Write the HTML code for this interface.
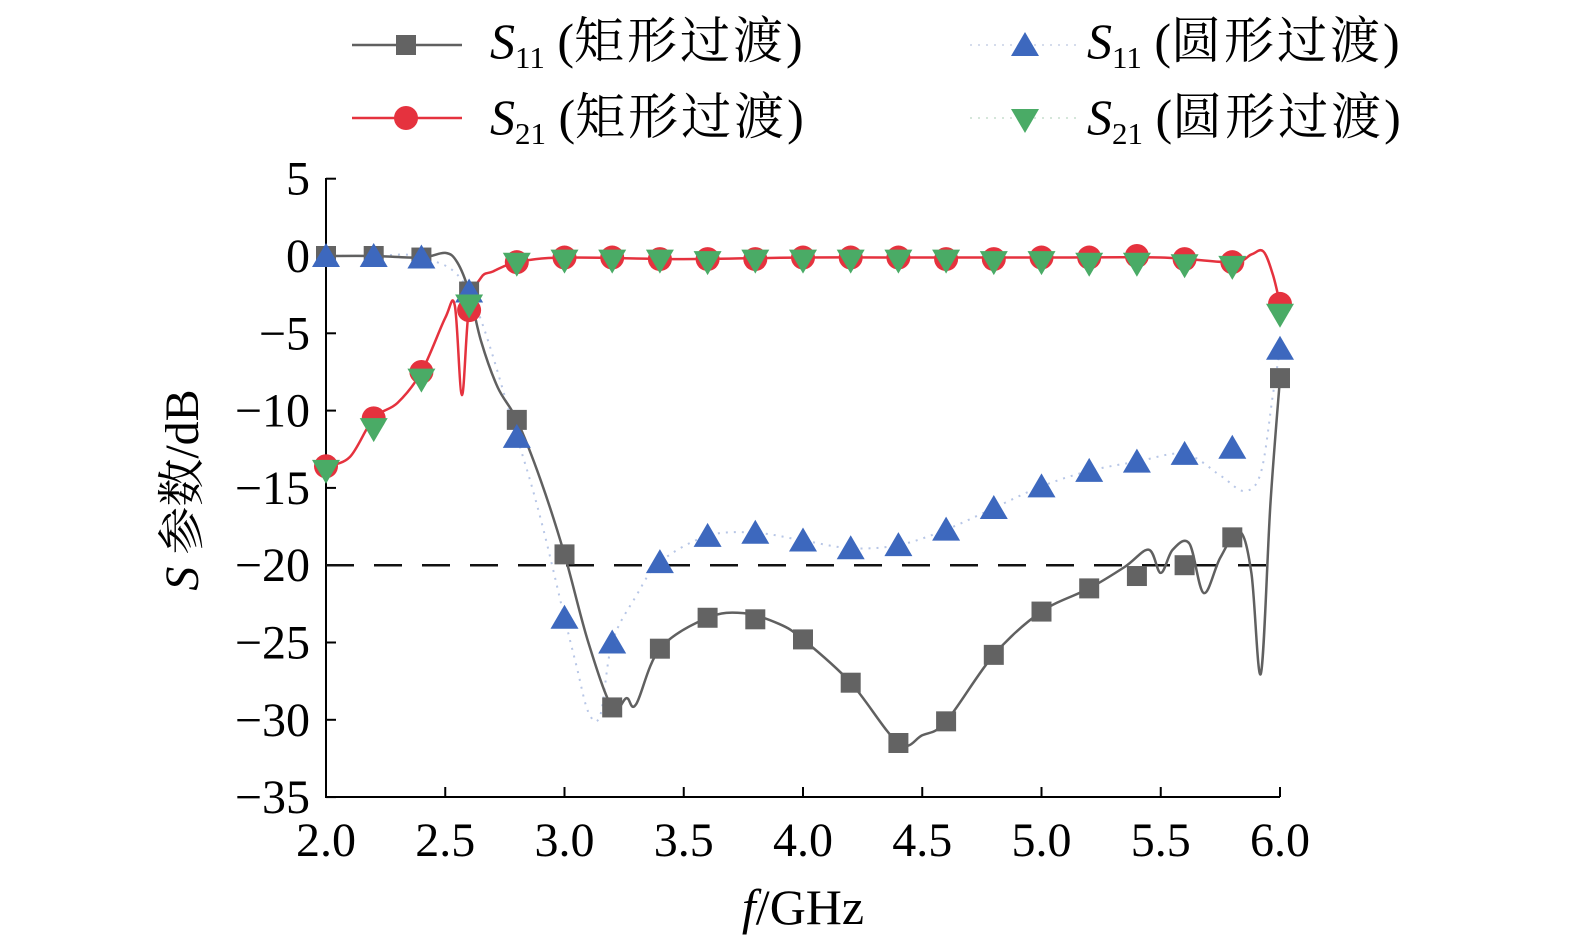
<!DOCTYPE html>
<html><head><meta charset="utf-8">
<style>
body{margin:0;background:#fff;}
svg{display:block;}
svg text{font-family:"Liberation Serif","Noto Serif CJK SC",serif;}
</style></head>
<body>
<svg id="chart" width="1575" height="949" viewBox="0 0 1575 949">
<g id="axes"></g>
<g id="series"></g>
<g id="legend"></g>
</svg>
<script>
const markerFreqs=[2.0,2.2,2.4,2.6,2.8,3.0,3.2,3.4,3.6,3.8,4.0,4.2,4.4,4.6,4.8,5.0,5.2,5.4,5.6,5.8,6.0];
const s11Rect=[0,0,-0.1,-2.3,-10.6,-19.3,-29.2,-25.4,-23.4,-23.5,-24.8,-27.6,-31.5,-30.1,-25.8,-23.0,-21.5,-20.7,-20.0,-18.2,-7.9];
const s21Rect=[-13.6,-10.5,-7.5,-3.5,-0.4,-0.1,-0.1,-0.2,-0.2,-0.2,-0.1,-0.1,-0.1,-0.2,-0.2,-0.1,-0.1,0.0,-0.2,-0.4,-3.1];
const s11Circ=[0,0,-0.1,-2.3,-11.7,-23.4,-25.0,-19.8,-18.1,-17.9,-18.4,-18.9,-18.7,-17.7,-16.3,-14.9,-13.9,-13.3,-12.8,-12.4,-6.0];
const s21Circ=[-13.9,-11.2,-8.0,-3.2,-0.5,-0.3,-0.3,-0.3,-0.4,-0.3,-0.3,-0.3,-0.3,-0.3,-0.4,-0.4,-0.5,-0.5,-0.6,-0.7,-3.8];
const s11RectLineF=[2.0,2.2,2.4,2.5,2.55,2.6,2.65,2.72,2.8,2.9,3.0,3.1,3.2,3.26,3.3,3.4,3.6,3.75,3.9,4.0,4.2,4.4,4.5,4.6,4.8,5.0,5.2,5.35,5.45,5.5,5.55,5.62,5.68,5.75,5.83,5.88,5.92,5.96,6.0];
const s11RectLineV=[0,0,-0.1,0.2,-0.4,-2.3,-5.5,-8.5,-10.6,-14.5,-19.3,-25,-29.2,-28.6,-29.0,-25.4,-23.4,-23.1,-23.8,-24.8,-27.6,-31.5,-31.0,-30.1,-25.8,-23.0,-21.5,-20.1,-19.0,-20.5,-19.0,-18.6,-21.8,-19.5,-17.8,-20.5,-27.0,-16,-7.9];
const s21RectLineF=[2.0,2.1,2.2,2.3,2.4,2.5,2.54,2.57,2.6,2.65,2.7,2.8,3.0,3.5,4.0,4.5,5.0,5.5,5.8,5.88,5.93,5.97,6.0];
const s21RectLineV=[-13.6,-13.0,-10.5,-9.5,-7.5,-4,-3.2,-9.0,-3.3,-1.4,-1.0,-0.4,-0.1,-0.2,-0.1,-0.1,-0.1,-0.1,-0.4,0.1,0.3,-1.2,-3.1];
const s11CircLineF=[2.0,2.2,2.4,2.6,2.8,2.9,3.0,3.05,3.1,3.15,3.2,3.3,3.4,3.6,3.8,4.0,4.2,4.4,4.6,4.8,5.0,5.2,5.4,5.6,5.75,5.85,5.92,5.97,6.0];
const s11CircLineV=[0,0,-0.1,-2.3,-11.7,-17,-23.4,-26.5,-29.5,-29.7,-25.0,-22,-19.8,-18.1,-17.9,-18.4,-18.9,-18.7,-17.7,-16.3,-14.9,-13.9,-13.3,-12.8,-14.2,-15.2,-14,-9,-6.0];
const xTicks=[2.0,2.5,3.0,3.5,4.0,4.5,5.0,5.5,6.0];
const xTickLabels=["2.0","2.5","3.0","3.5","4.0","4.5","5.0","5.5","6.0"];
const yTicks=[5,0,-5,-10,-15,-20,-25,-30,-35];
const yTickLabels=["5","0","\u22125","\u221210","\u221215","\u221220","\u221225","\u221230","\u221235"];
const refLine=-20;

const NS="http://www.w3.org/2000/svg";
const X0=326,X1=1280,Y0=256,PERDB=15.46;
function xs(f){return X0+(f-2)*(X1-X0)/4;}
function ys(v){return Y0-v*PERDB;}
function mk(tag,attrs,parent){const e=document.createElementNS(NS,tag);for(const k in attrs)e.setAttribute(k,attrs[k]);parent.appendChild(e);return e;}
function smooth(F,V){const p=F.map((f,i)=>[xs(f),ys(V[i])]);let d=`M${p[0][0]},${p[0][1]}`;
 for(let i=0;i<p.length-1;i++){const a=p[i-1]||p[i],b=p[i],c=p[i+1],e=p[i+2]||c;
 d+=` C${b[0]+(c[0]-a[0])/6},${b[1]+(c[1]-a[1])/6} ${c[0]-(e[0]-b[0])/6},${c[1]-(e[1]-b[1])/6} ${c[0]},${c[1]}`;}return d;}
const axes=document.getElementById('axes'),series=document.getElementById('series'),legend=document.getElementById('legend');

let e=mk('line',{x1:X0,y1:178,x2:X0,y2:798,stroke:'#000','stroke-width':2},axes);

e=mk('line',{x1:X0-1,y1:797,x2:X1,y2:797,stroke:'#000','stroke-width':2},axes);

yTicks.forEach((v,i)=>{mk('line',{x1:X0,y1:ys(v),x2:X0+10,y2:ys(v),stroke:'#000','stroke-width':2},axes);
 const t=mk('text',{x:310,y:ys(v)+16,'text-anchor':'end','font-size':48},axes);t.textContent=yTickLabels[i];
 });
xTicks.forEach((f,i)=>{mk('line',{x1:xs(f),y1:797,x2:xs(f),y2:787,stroke:'#000','stroke-width':2},axes);
 const t=mk('text',{x:xs(f),y:856,'text-anchor':'middle','font-size':48},axes);t.textContent=xTickLabels[i];
 });
e=mk('text',{x:803,y:924,'text-anchor':'middle','font-size':50},axes);
e.innerHTML='<tspan font-style="italic">f</tspan>/GHz';

e=mk('text',{x:0,y:0,'text-anchor':'middle','font-size':48,transform:'translate(198,490) rotate(-90)'},axes);
e.innerHTML='<tspan font-style="italic">S</tspan> 参数/dB';

e=mk('line',{x1:X0,y1:ys(refLine),x2:X1,y2:ys(refLine),stroke:'#111','stroke-width':2.5,'stroke-dasharray':'28,20'},axes);


e=mk('path',{d:smooth(s11CircLineF,s11CircLineV),fill:'none',stroke:'#b7c6e6','stroke-width':2,'stroke-dasharray':'2,6'},series);

e=mk('path',{d:smooth(s11RectLineF,s11RectLineV),fill:'none',stroke:'#606060','stroke-width':2.5},series);

e=mk('path',{d:smooth(s21RectLineF,s21RectLineV),fill:'none',stroke:'#e5323e','stroke-width':2.5},series);


function square(x,y,g){return mk('rect',{x:x-10,y:y-10,width:20,height:20,fill:'#636363'},g);}
function circle(x,y,g){return mk('circle',{cx:x,cy:y,r:12,fill:'#e5323e'},g);}
function up(x,y,g){return mk('polygon',{points:`${x},${y-13} ${x-14},${y+11} ${x+14},${y+11}`,fill:'#3d68be'},g);}
function down(x,y,g){return mk('polygon',{points:`${x-14},${y-11} ${x+14},${y-11} ${x},${y+13}`,fill:'#4aab66'},g);}
markerFreqs.forEach((f,i)=>{
 e=square(xs(f),ys(s11Rect[i]),series);
 e=circle(xs(f),ys(s21Rect[i]),series);
 e=up(xs(f),ys(s11Circ[i]),series);
 e=down(xs(f),ys(s21Circ[i]),series);
});

function legText(x,y,sub,label){const t=mk('text',{x:x,y:y,'font-size':50},legend);
 t.innerHTML=`<tspan font-style="italic">S</tspan><tspan font-size="31" dy="10">${sub}</tspan><tspan dy="-10"> (</tspan><tspan letter-spacing="3">${label}</tspan><tspan>)</tspan>`;return t;}
mk('line',{x1:352,y1:45,x2:462,y2:45,stroke:'#606060','stroke-width':2.5},legend);
e=square(406,45,legend);
e=legText(490,58,'11','矩形过渡');
mk('line',{x1:352,y1:118,x2:462,y2:118,stroke:'#e5323e','stroke-width':2.5},legend);
e=circle(406,118,legend);
e=legText(490,134,'21','矩形过渡');
mk('line',{x1:970,y1:45,x2:1080,y2:45,stroke:'#d5dcec','stroke-width':2,'stroke-dasharray':'2,6'},legend);
e=up(1025,45,legend);
e=legText(1087,58,'11','圆形过渡');
mk('line',{x1:970,y1:118,x2:1080,y2:118,stroke:'#d5e6da','stroke-width':2,'stroke-dasharray':'2,6'},legend);
e=down(1025,120,legend);
e=legText(1087,134,'21','圆形过渡');
</script>
</body></html>
